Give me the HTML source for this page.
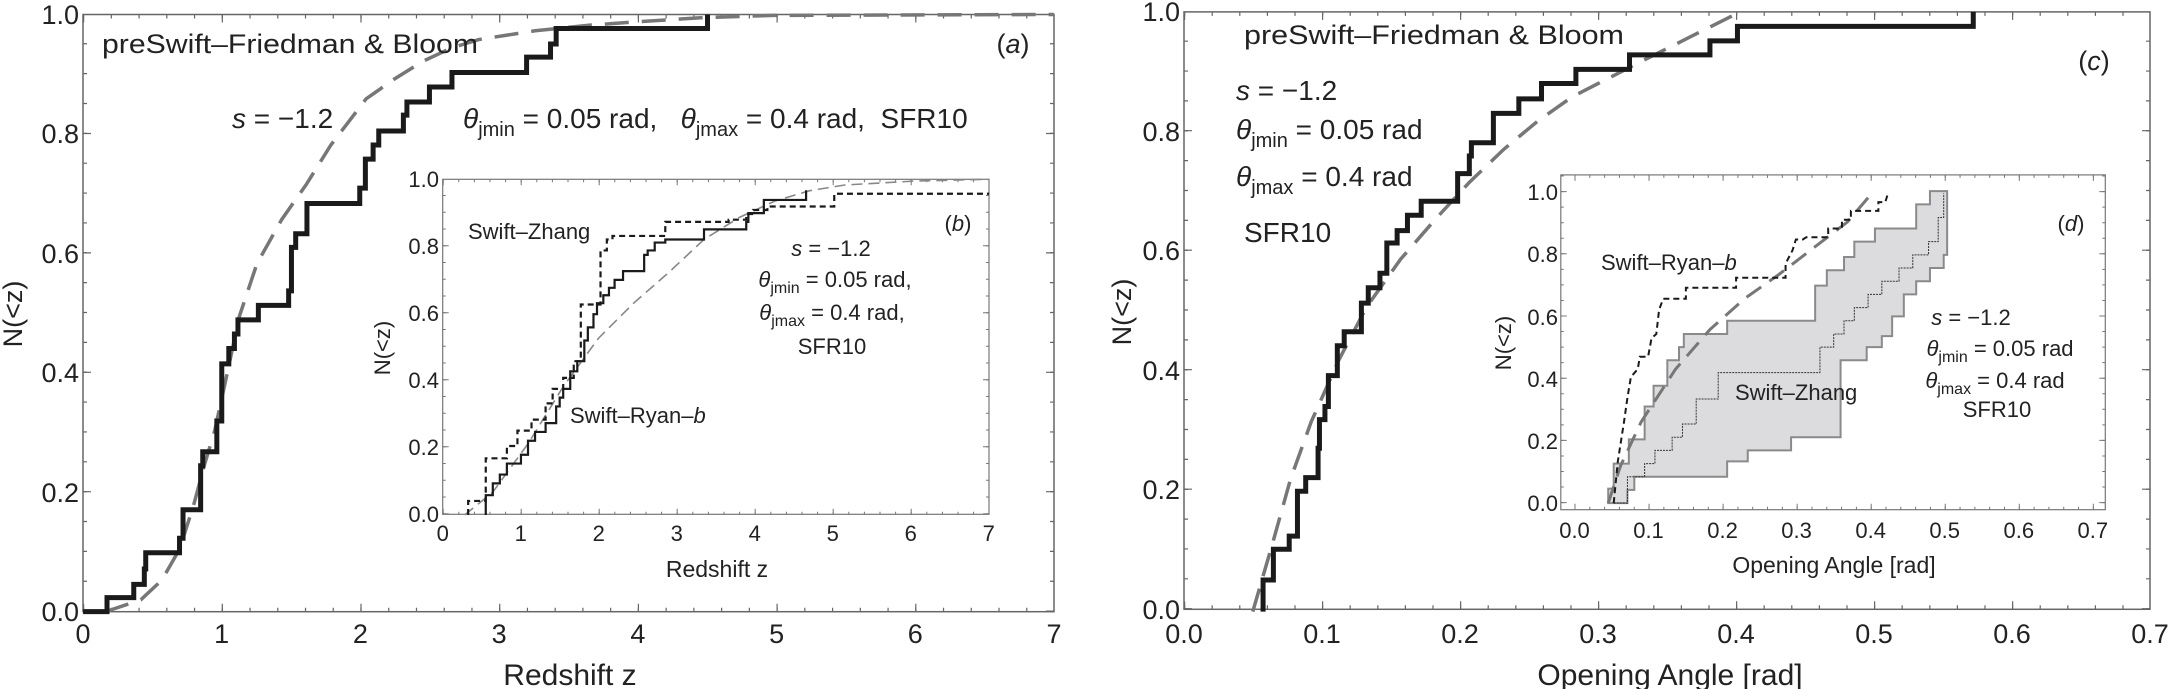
<!DOCTYPE html>
<html><head><meta charset="utf-8"><style>
html,body{margin:0;padding:0;background:#fff;}
svg{display:block;font-family:"Liberation Sans",sans-serif;}
.nss{vector-effect:non-scaling-stroke;}
</style></head><body>
<svg width="2170" height="689" viewBox="0 0 2170 689" xmlns="http://www.w3.org/2000/svg">
<rect width="2170" height="689" fill="#fff"/>

<!-- ============ PANEL A ============ -->
<rect x="83" y="14.5" width="971" height="597.2" fill="none" stroke="#666" stroke-width="1.5"/>
<g stroke="#666" stroke-width="1">
 <!-- x minor/major bottom & top -->
 <line x1="83" y1="609.7" x2="1054" y2="609.7" stroke-width="4" stroke-dasharray="1.2 26.54"/>
 <line x1="83" y1="607.7" x2="1054" y2="607.7" stroke-width="8" stroke-dasharray="1.2 137.5"/>
 <line x1="83" y1="16.5" x2="1054" y2="16.5" stroke-width="4" stroke-dasharray="1.2 26.54"/>
 <line x1="83" y1="18.5" x2="1054" y2="18.5" stroke-width="8" stroke-dasharray="1.2 137.5"/>
 <!-- y -->
 <line x1="85" y1="611.7" x2="85" y2="14.5" stroke-width="4" stroke-dasharray="1.2 28.66"/>
 <line x1="87" y1="611.7" x2="87" y2="14.5" stroke-width="8" stroke-dasharray="1.2 118.2"/>
 <line x1="1052" y1="611.7" x2="1052" y2="14.5" stroke-width="4" stroke-dasharray="1.2 28.66"/>
 <line x1="1050" y1="611.7" x2="1050" y2="14.5" stroke-width="8" stroke-dasharray="1.2 118.2"/>
</g>
<g font-size="27" fill="#222" text-anchor="end">
 <text x="79" y="621">0.0</text><text x="79" y="502">0.2</text><text x="79" y="382">0.4</text>
 <text x="79" y="263">0.6</text><text x="79" y="143">0.8</text><text x="79" y="24">1.0</text>
</g>
<g font-size="27" fill="#222" text-anchor="middle">
 <text x="83" y="643">0</text><text x="221.7" y="643">1</text><text x="360.4" y="643">2</text><text x="499.1" y="643">3</text>
 <text x="637.9" y="643">4</text><text x="776.6" y="643">5</text><text x="915.3" y="643">6</text><text x="1054" y="643">7</text>
</g>
<text x="570" y="685" font-size="30" fill="#222" text-anchor="middle">Redshift z</text>
<text transform="translate(22,314) rotate(-90)" font-size="27" fill="#222" text-anchor="middle">N(&lt;z)</text>

<g transform="scale(0.704,0.4394)" fill="none">
 <polyline class="nss" stroke="#777" stroke-width="3.5" stroke-dasharray="24 13" points="150,1392 200,1365 230,1320 255,1250 275,1150 290,1060 305,980 320,870 340,720 365,600 400,500 435,420 470,330 520,225 560,180 600,140 640,110 680,90 760,70 840,57 920,48 1000,40 1100,35 1497,33"/>
 <polyline class="nss" stroke="#1a1a1a" stroke-width="5" points="118,1392 152,1392 152,1360 190,1360 190,1330 205,1330 205,1295 207,1295 207,1258 255,1258 255,1225 260,1225 260,1160 285,1160 285,1060 288,1060 288,1028 308,1028 308,958 315,958 315,828 325,828 325,793 333,793 333,760 338,760 338,728 367,728 367,695 410,695 410,662 414,662 414,563 420,563 420,532 436,532 436,463 511,463 511,428 519,428 519,362 530,362 530,330 538,330 538,298 573,298 573,262 578,262 578,232 610,232 610,198 642,198 642,165 748,165 748,130 782,130 782,100 790,100 790,65 1005,65 1005,33"/>
</g>
<text x="102" y="53" font-size="27" fill="#222" textLength="376" lengthAdjust="spacingAndGlyphs">preSwift–Friedman &amp; Bloom</text>
<text x="1013" y="53" font-size="27" fill="#222" text-anchor="middle">(<tspan font-style="italic">a</tspan>)</text>
<text x="232" y="128" font-size="28" fill="#222"><tspan font-style="italic">s</tspan> = −1.2</text>
<text x="463" y="128" font-size="28" fill="#222" xml:space="preserve"><tspan font-style="italic">θ</tspan><tspan font-size="20" dy="8">jmin</tspan><tspan dy="-8"> = 0.05 rad,   </tspan><tspan font-style="italic">θ</tspan><tspan font-size="20" dy="8">jmax</tspan><tspan dy="-8"> = 0.4 rad,  SFR10</tspan></text>

<!-- ============ INSET B ============ -->
<rect x="442.7" y="179.3" width="546.3" height="335" fill="#fff" stroke="#777" stroke-width="1.2"/>
<g stroke="#777" stroke-width="1">
 <line x1="442.7" y1="513.3" x2="989" y2="513.3" stroke-width="3" stroke-dasharray="1 14.6"/>
 <line x1="442.7" y1="511.8" x2="989" y2="511.8" stroke-width="6" stroke-dasharray="1 77"/>
 <line x1="442.7" y1="180.8" x2="989" y2="180.8" stroke-width="3" stroke-dasharray="1 14.6"/>
 <line x1="442.7" y1="182.3" x2="989" y2="182.3" stroke-width="6" stroke-dasharray="1 77"/>
 <line x1="444.2" y1="514.3" x2="444.2" y2="179.3" stroke-width="3" stroke-dasharray="1 15.75"/>
 <line x1="445.7" y1="514.3" x2="445.7" y2="179.3" stroke-width="6" stroke-dasharray="1 66"/>
 <line x1="987.5" y1="514.3" x2="987.5" y2="179.3" stroke-width="3" stroke-dasharray="1 15.75"/>
 <line x1="986" y1="514.3" x2="986" y2="179.3" stroke-width="6" stroke-dasharray="1 66"/>
</g>
<g font-size="22" fill="#222" text-anchor="end">
 <text x="439" y="522">0.0</text><text x="439" y="455">0.2</text><text x="439" y="388">0.4</text>
 <text x="439" y="321">0.6</text><text x="439" y="254">0.8</text><text x="439" y="187">1.0</text>
</g>
<g font-size="22" fill="#222" text-anchor="middle">
 <text x="442.7" y="541">0</text><text x="520.7" y="541">1</text><text x="598.7" y="541">2</text><text x="676.7" y="541">3</text>
 <text x="754.7" y="541">4</text><text x="832.7" y="541">5</text><text x="910.7" y="541">6</text><text x="988.7" y="541">7</text>
</g>
<text x="717" y="577" font-size="23" fill="#222" text-anchor="middle">Redshift z</text>
<text transform="translate(390,348) rotate(-90)" font-size="22" fill="#222" text-anchor="middle">N(&lt;z)</text>
<g transform="scale(0.704,0.4394)" fill="none">
 <polyline class="nss" stroke="#888" stroke-width="1.6" stroke-dasharray="11 6" points="660,1172 700,1120 750,1010 800,880 850,770 900,690 950,620 1000,545 1050,495 1100,458 1150,434 1200,421 1300,412 1405,408"/>
 <polyline class="nss" stroke="#1a1a1a" stroke-width="2.2" points="690,1172 690,1127 700,1127 700,1100 710,1100 710,1080 720,1080 720,1055 740,1055 740,1035 750,1035 750,1003 760,1003 760,983 775,983 775,963 790,963 790,925 795,925 795,905 800,905 800,885 810,885 810,845 820,845 820,822 830,822 830,775 835,775 835,745 843,745 843,715 848,715 848,690 857,690 857,672 865,672 865,655 873,655 873,637 885,637 885,617 915,617 915,580 920,580 920,570 930,570 930,552 945,552 945,545 1000,545 1000,522 1060,522 1060,505 1063,505 1063,485 1085,485 1085,455 1145,455 1145,433"/>
 <polyline class="nss" stroke="#1a1a1a" stroke-width="2.2" stroke-dasharray="6 4" points="665,1172 665,1140 690,1140 690,1043 720,1043 720,1015 735,1015 735,980 755,980 755,955 775,955 775,918 785,918 785,885 800,885 800,860 815,860 815,822 825,822 825,693 853,693 853,570 862,570 862,545 870,545 870,537 945,537 945,505 1035,505 1035,500 1060,500 1060,487 1070,487 1070,478 1090,478 1090,470 1185,470 1185,441 1405,441"/>
</g>
<text x="468" y="239" font-size="22" fill="#222">Swift–Zhang</text>
<text x="958" y="231" font-size="22" fill="#222" text-anchor="middle">(<tspan font-style="italic">b</tspan>)</text>
<g font-size="22" fill="#222" text-anchor="middle">
 <text x="831" y="256"><tspan font-style="italic">s</tspan> = −1.2</text>
 <text x="835" y="287"><tspan font-style="italic">θ</tspan><tspan font-size="16" dy="6">jmin</tspan><tspan dy="-6"> = 0.05 rad,</tspan></text>
 <text x="832" y="320"><tspan font-style="italic">θ</tspan><tspan font-size="16" dy="6">jmax</tspan><tspan dy="-6"> = 0.4 rad,</tspan></text>
 <text x="832" y="354">SFR10</text>
</g>
<text x="570" y="423" font-size="22" fill="#222">Swift–Ryan–<tspan font-style="italic">b</tspan></text>

<!-- ============ PANEL C ============ -->
<rect x="1184" y="11.9" width="966" height="597.4" fill="none" stroke="#666" stroke-width="1.5"/>
<g stroke="#666" stroke-width="1">
 <line x1="1184" y1="607.3" x2="2150" y2="607.3" stroke-width="4" stroke-dasharray="1.2 26.4"/>
 <line x1="1184" y1="605.3" x2="2150" y2="605.3" stroke-width="8" stroke-dasharray="1.2 136.8"/>
 <line x1="1184" y1="13.9" x2="2150" y2="13.9" stroke-width="4" stroke-dasharray="1.2 26.4"/>
 <line x1="1184" y1="15.9" x2="2150" y2="15.9" stroke-width="8" stroke-dasharray="1.2 136.8"/>
 <line x1="1186" y1="609.3" x2="1186" y2="11.9" stroke-width="4" stroke-dasharray="1.2 28.67"/>
 <line x1="1188" y1="609.3" x2="1188" y2="11.9" stroke-width="8" stroke-dasharray="1.2 118.3"/>
 <line x1="2148" y1="609.3" x2="2148" y2="11.9" stroke-width="4" stroke-dasharray="1.2 28.67"/>
 <line x1="2146" y1="609.3" x2="2146" y2="11.9" stroke-width="8" stroke-dasharray="1.2 118.3"/>
</g>
<g font-size="27" fill="#222" text-anchor="end">
 <text x="1180" y="619">0.0</text><text x="1180" y="499">0.2</text><text x="1180" y="380">0.4</text>
 <text x="1180" y="260">0.6</text><text x="1180" y="141">0.8</text><text x="1180" y="21">1.0</text>
</g>
<g font-size="27" fill="#222" text-anchor="middle">
 <text x="1184" y="643">0.0</text><text x="1322" y="643">0.1</text><text x="1460" y="643">0.2</text><text x="1598" y="643">0.3</text>
 <text x="1736" y="643">0.4</text><text x="1874" y="643">0.5</text><text x="2012" y="643">0.6</text><text x="2150" y="643">0.7</text>
</g>
<text x="1670" y="685" font-size="30" fill="#222" text-anchor="middle">Opening Angle [rad]</text>
<text transform="translate(1131,312) rotate(-90)" font-size="27" fill="#222" text-anchor="middle">N(&lt;z)</text>
<g transform="translate(1091.2,0) scale(0.6875,0.4394)" fill="none">
 <polyline class="nss" stroke="#777" stroke-width="3.5" stroke-dasharray="24 13" points="235,1392 265,1230 290,1090 320,960 360,820 400,700 450,590 500,500 550,415 600,340 650,275 700,220 750,180 800,140 870,85 940,30"/>
 <polyline class="nss" stroke="#1a1a1a" stroke-width="5" points="250,1392 250,1320 265,1320 265,1250 288,1250 288,1220 300,1220 300,1118 312,1118 312,1087 330,1087 330,1020 332,1020 332,955 340,955 340,925 345,925 345,855 358,855 358,787 368,787 368,755 393,755 393,690 403,690 403,655 420,655 420,622 430,622 430,553 445,553 445,525 460,525 460,490 480,490 480,458 533,458 533,395 550,395 550,355 553,355 553,325 585,325 585,258 622,258 622,225 655,225 655,190 705,190 705,158 783,158 783,125 900,125 900,93 940,93 940,60 1283,60 1283,27"/>
</g>
<text x="1244" y="44" font-size="27" fill="#222" textLength="380" lengthAdjust="spacingAndGlyphs">preSwift–Friedman &amp; Bloom</text>
<text x="2094" y="70" font-size="27" fill="#222" text-anchor="middle">(<tspan font-style="italic">c</tspan>)</text>
<g font-size="28" fill="#222">
 <text x="1236" y="100"><tspan font-style="italic">s</tspan> = −1.2</text>
 <text x="1236" y="139"><tspan font-style="italic">θ</tspan><tspan font-size="20" dy="8">jmin</tspan><tspan dy="-8"> = 0.05 rad</tspan></text>
 <text x="1236" y="186"><tspan font-style="italic">θ</tspan><tspan font-size="20" dy="8">jmax</tspan><tspan dy="-8"> = 0.4 rad</tspan></text>
 <text x="1244" y="242">SFR10</text>
</g>

<!-- ============ INSET D ============ -->
<rect x="1560.8" y="174.9" width="544.5" height="334.8" fill="#fff" stroke="#777" stroke-width="1.2"/>
<g stroke="#777" stroke-width="1">
 <line x1="1574.5" y1="508.2" x2="2105" y2="508.2" stroke-width="3" stroke-dasharray="1 13.81"/>
 <line x1="1574.5" y1="506.7" x2="2105" y2="506.7" stroke-width="6" stroke-dasharray="1 73.05"/>
 <line x1="1574.5" y1="176.4" x2="2105" y2="176.4" stroke-width="3" stroke-dasharray="1 13.81"/>
 <line x1="1574.5" y1="177.9" x2="2105" y2="177.9" stroke-width="6" stroke-dasharray="1 73.05"/>
 <line x1="1562.3" y1="503.1" x2="1562.3" y2="174.9" stroke-width="3" stroke-dasharray="1 14.55"/>
 <line x1="1563.8" y1="503.1" x2="1563.8" y2="174.9" stroke-width="6" stroke-dasharray="1 61.2"/>
 <line x1="2103.8" y1="503.1" x2="2103.8" y2="174.9" stroke-width="3" stroke-dasharray="1 14.55"/>
 <line x1="2102.3" y1="503.1" x2="2102.3" y2="174.9" stroke-width="6" stroke-dasharray="1 61.2"/>
</g>
<g font-size="22" fill="#222" text-anchor="end">
 <text x="1558" y="511">0.0</text><text x="1558" y="449">0.2</text><text x="1558" y="387">0.4</text>
 <text x="1558" y="325">0.6</text><text x="1558" y="262">0.8</text><text x="1558" y="200">1.0</text>
</g>
<g font-size="22" fill="#222" text-anchor="middle">
 <text x="1574.5" y="538">0.0</text><text x="1648.5" y="538">0.1</text><text x="1722.6" y="538">0.2</text><text x="1796.6" y="538">0.3</text>
 <text x="1870.7" y="538">0.4</text><text x="1944.7" y="538">0.5</text><text x="2018.8" y="538">0.6</text><text x="2092.8" y="538">0.7</text>
</g>
<text x="1834" y="573" font-size="23" fill="#222" text-anchor="middle">Opening Angle [rad]</text>
<text transform="translate(1511,343) rotate(-90)" font-size="22" fill="#222" text-anchor="middle">N(&lt;z)</text>
<g transform="translate(1091.2,0) scale(0.6875,0.4394)" fill="none">
 <polygon class="nss" fill="#dcdcde" stroke="#8a8a8a" stroke-width="2" points="752,1145 752,1112 760,1112 760,1055 782,1055 782,1000 805,1000 805,925 818,925 818,878 838,878 838,820 855,820 855,790 862,790 862,760 925,760 925,730 1053,730 1053,650 1070,650 1070,615 1095,615 1095,585 1110,585 1110,550 1140,550 1140,520 1200,520 1200,465 1220,465 1220,435 1245,435 1245,580 1240,580 1240,610 1220,610 1220,640 1200,640 1200,670 1182,670 1182,720 1165,720 1165,765 1150,765 1150,790 1128,790 1128,820 1090,820 1090,995 1018,995 1018,1025 955,1025 955,1050 925,1050 925,1085 790,1085 790,1115 780,1115 780,1145"/>
 <polyline class="nss" stroke="#333" stroke-width="1" stroke-dasharray="2 1" points="760,1145 780,1145 780,1085 805,1085 805,1055 820,1055 820,1025 845,1025 845,995 860,995 860,965 880,965 880,908 912,908 912,848 1060,848 1060,790 1080,790 1080,760 1095,760 1095,730 1110,730 1110,700 1130,700 1130,670 1150,670 1150,640 1175,640 1175,610 1195,610 1195,580 1218,580 1218,550 1232,550 1232,495 1240,495 1240,440"/>
 <polyline class="nss" stroke="#777" stroke-width="3" stroke-dasharray="18 10" points="752,1145 770,1060 800,960 850,840 900,750 950,680 1000,625 1050,565 1100,505 1130,450"/>
 <polyline class="nss" stroke="#1a1a1a" stroke-width="2" stroke-dasharray="6 4" points="760,1145 766,1050 775,960 780,905 785,858 795,840 798,812 810,812 815,770 822,760 826,705 832,680 865,680 865,655 938,655 938,632 1010,632 1010,600 1020,570 1025,545 1035,545 1040,540 1072,540 1072,520 1092,520 1092,500 1105,500 1105,480 1145,480 1145,460 1155,460 1158,445"/>
</g>
<text x="2071" y="231" font-size="22" fill="#222" text-anchor="middle">(<tspan font-style="italic">d</tspan>)</text>
<text x="1601" y="270" font-size="22" fill="#222">Swift–Ryan–<tspan font-style="italic">b</tspan></text>
<text x="1735" y="400" font-size="22" fill="#222">Swift–Zhang</text>
<g font-size="22" fill="#222" text-anchor="middle">
 <text x="1971" y="325"><tspan font-style="italic">s</tspan> = −1.2</text>
 <text x="2000" y="356"><tspan font-style="italic">θ</tspan><tspan font-size="16" dy="6">jmin</tspan><tspan dy="-6"> = 0.05 rad</tspan></text>
 <text x="1995" y="388"><tspan font-style="italic">θ</tspan><tspan font-size="16" dy="6">jmax</tspan><tspan dy="-6"> = 0.4 rad</tspan></text>
 <text x="1997" y="417">SFR10</text>
</g>
</svg>
</body></html>
